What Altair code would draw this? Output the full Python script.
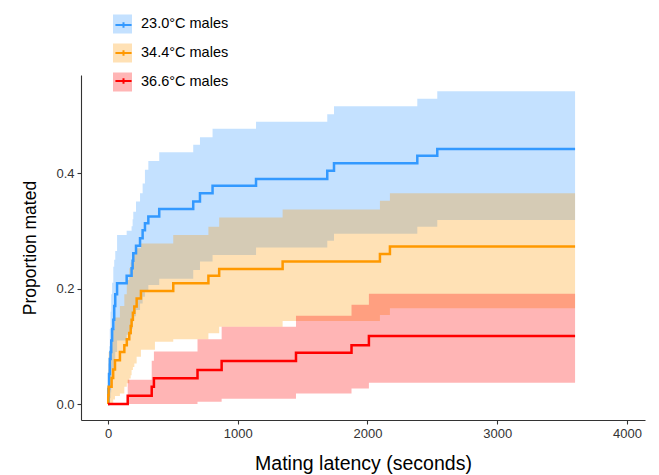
import altair as alt
import pandas as pd

series = ["23.0°C males", "34.4°C males", "36.6°C males"]
colors = ["#3399FF", "#FF9900", "#FF0000"]

# 23.0°C males
t_a = [0, 3, 8, 14, 20, 25, 32, 41, 48, 56, 70, 144, 182, 190, 195, 216, 247, 267, 285, 311, 395, 657, 709, 806, 1141, 1690, 1742, 2384, 2538, 3600]
est_a = [0, .026, .052, .078, .09, .11, .13, .146, .17, .19, .209, .222, .235, .248, .261, .274, .287, .301, .313, .325, .338, .351, .365, .378, .390, .404, .417, .430, .442, .442]
hi_a = [0, .07, .10, .13, .16, .19, .21, .238, .25, .265, .293, .30, .308, .32, .333, .351, .365, .382, .406, .421, .436, .449, .462, .477, .489, .502, .516, .529, .542, .542]
lo_a = [0, 0, .003, .01, .02, .03, .045, .06, .075, .09, .11, .12, .13, .142, .152, .163, .174, .186, .196, .206, .217, .232, .247, .258, .271, .283, .295, .307, .319, .319]

# 34.4°C males
t_b = [0, 2, 5, 28, 40, 54, 92, 126, 145, 164, 175, 182, 192, 203, 221, 254, 362, 503, 774, 857, 1346, 2096, 2173, 3600]
est_b = [0, .015, .03, .045, .06, .076, .09, .102, .112, .123, .135, .146, .158, .169, .183, .196, .196, .209, .222, .234, .247, .260, .273, .273]
hi_b = [0, .06, .09, .11, .13, .15, .17, .19, .215, .235, .245, .25, .258, .262, .27, .278, .278, .293, .307, .323, .337, .352, .365, .365]
lo_b = [0, 0, 0, 0, .008, .014, .018, .03, .036, .044, .05, .059, .064, .07, .082, .094, .108, .112, .1225, .134, .144, .154, .166, .166]

# 36.6°C males
t_c = [0, 152, 337, 354, 690, 876, 1449, 1877, 2011, 3600]
est_c = [0, .0145, .030, .0445, .059, .0745, .089, .102, .118, .118]
lo_c = [0, 0, 0, 0, .004, .009, .018, .027, .037, .037]
hi_c = [0, .042, .075, .091, .112, .134, .153, .172, .191, .191]

rows = []
for name, ts, es, los, his in [
    (series[0], t_a, est_a, lo_a, hi_a),
    (series[1], t_b, est_b, lo_b, hi_b),
    (series[2], t_c, est_c, lo_c, hi_c),
]:
    for t, e, lo, hi in zip(ts, es, los, his):
        rows.append({"series": name, "series_l": name, "t": t, "est": e, "lo": lo, "hi": hi})
df = pd.DataFrame(rows)

FONT = "Liberation Sans"
xscale = alt.Scale(domain=[-208, 4139], nice=False, zero=False)
yscale = alt.Scale(domain=[-0.0277, 0.570], nice=False, zero=False)

xaxis = alt.Axis(values=[0, 1000, 2000, 3000, 4000], format="d", grid=False,
                 domainColor="#333333", domainWidth=1.1, tickColor="#333333", tickWidth=1.1,
                 tickSize=4, labelFontSize=13, labelColor="#333333", labelFont=FONT,
                 labelPadding=3, title="Mating latency (seconds)", titleFontSize=19.5,
                 titleFont=FONT, titleFontWeight="normal", titleColor="black",
                 titleX=282, titleY=49, titleBaseline="alphabetic")
yaxis = alt.Axis(values=[0, 0.2, 0.4], format=".1f", grid=False,
                 domainColor="#333333", domainWidth=1.1, tickColor="#333333", tickWidth=1.1,
                 tickSize=4, labelFontSize=13, labelColor="#333333", labelFont=FONT,
                 labelPadding=3, title="Proportion mated", titleFontSize=17.5,
                 titleFont=FONT, titleFontWeight="normal", titleColor="black",
                 titleX=-46, titleY=172.5, titleBaseline="alphabetic")

legend_common = dict(title=None, orient="none", legendX=32, legendY=-60.5, symbolSize=361,
                     labelFontSize=14.5, labelFont=FONT, labelColor="black", rowPadding=10,
                     labelOffset=9, padding=0)

area = alt.Chart(df).mark_area(interpolate="step-after", fillOpacity=0.29, strokeWidth=0).encode(
    x=alt.X("t:Q", scale=xscale, axis=xaxis),
    y=alt.Y("lo:Q", scale=yscale, axis=yaxis, stack=None),
    y2="hi:Q",
    fill=alt.Fill("series:N", scale=alt.Scale(domain=series, range=colors),
                  legend=alt.Legend(symbolType="square", symbolOpacity=0.29,
                                    symbolStrokeWidth=0, **legend_common)),
)

line = alt.Chart(df).mark_line(interpolate="step-after", strokeWidth=2.5).encode(
    x=alt.X("t:Q", scale=xscale),
    y=alt.Y("est:Q", scale=yscale),
    stroke=alt.Stroke("series_l:N", scale=alt.Scale(domain=series, range=colors),
                      legend=alt.Legend(symbolType="M-0.85,0H0.85M0,-0.3V0.3",
                                        symbolStrokeWidth=2, symbolFillColor="transparent",
                                        labelExpr="''", **legend_common)),
)

chart = alt.layer(area, line).resolve_scale(fill="independent", stroke="independent").properties(
    width=564, height=345, autosize="none",
    padding={"left": 81, "top": 75, "right": 14, "bottom": 55},
).configure_view(stroke=None)

chart.save("out.html", embed_options={"renderer": "svg", "actions": False})
